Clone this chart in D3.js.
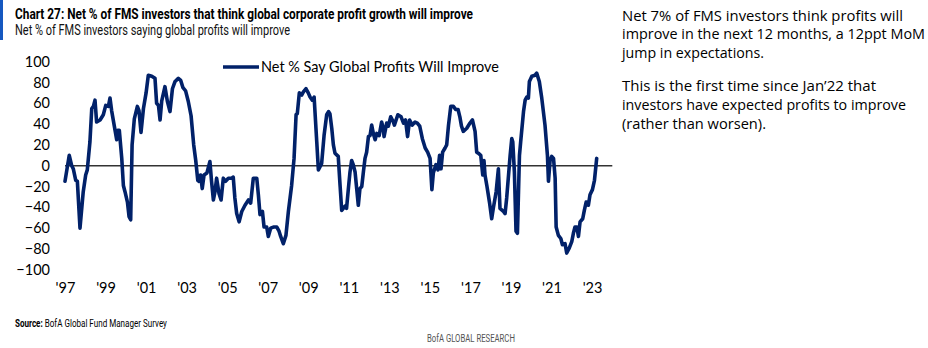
<!DOCTYPE html>
<html><head><meta charset="utf-8">
<script src="https://cdn.jsdelivr.net/npm/d3@7"></script>
<style>
html,body{margin:0;padding:0;background:#fff;}
svg{display:block;}
</style></head>
<body>
<svg id="chart" width="928" height="348"></svg>
<script>
// ---- data (fractional year positions) ----
const dates = [
1997.00,1997.21,1997.33,1997.41,1997.53,1997.61,1997.74,1997.90,1998.02,1998.10,
1998.23,1998.32,1998.40,1998.48,1998.56,1998.73,1998.89,1999.01,1999.14,1999.22,
1999.30,1999.47,1999.55,1999.60,1999.68,1999.80,1999.88,1999.96,2000.08,2000.16,
2000.24,2000.31,2000.42,2000.57,2000.65,2000.75,2000.87,2001.00,2001.11,2001.28,
2001.44,2001.52,2001.61,2001.69,2001.77,2001.93,2002.05,2002.18,2002.30,2002.43,
2002.59,2002.71,2002.82,2002.95,2003.08,2003.22,2003.35,2003.45,2003.55,2003.61,
2003.69,2003.77,2003.86,2004.00,2004.15,2004.23,2004.32,2004.40,2004.48,2004.60,
2004.70,2004.81,2004.92,2005.06,2005.22,2005.30,2005.38,2005.47,2005.59,2005.72,
2005.88,2006.05,2006.16,2006.29,2006.46,2006.54,2006.62,2006.74,2006.82,2006.95,
2007.03,2007.15,2007.28,2007.45,2007.56,2007.64,2007.77,2007.90,2008.02,2008.18,
2008.30,2008.40,2008.46,2008.56,2008.68,2008.76,2008.89,2009.00,2009.09,2009.20,
2009.29,2009.42,2009.50,2009.66,2009.78,2009.91,2010.00,2010.07,2010.16,2010.24,
2010.32,2010.48,2010.57,2010.65,2010.73,2010.81,2010.89,2010.98,2011.06,2011.14,
2011.22,2011.31,2011.39,2011.47,2011.55,2011.64,2011.72,2011.80,2011.88,2011.97,
2012.05,2012.13,2012.21,2012.30,2012.38,2012.50,2012.62,2012.70,2012.74,2012.87,
2012.95,2013.07,2013.20,2013.25,2013.42,2013.58,2013.70,2013.80,2013.90,2014.00,
2014.13,2014.27,2014.38,2014.50,2014.63,2014.77,2014.89,2015.01,2015.10,2015.17,
2015.30,2015.40,2015.48,2015.55,2015.63,2015.75,2015.83,2015.92,2016.03,2016.16,
2016.28,2016.39,2016.48,2016.56,2016.65,2016.82,2016.98,2017.10,2017.23,2017.31,
2017.39,2017.51,2017.61,2017.67,2017.72,2017.81,2017.94,2018.05,2018.13,2018.27,
2018.38,2018.46,2018.63,2018.71,2018.79,2018.96,2019.04,2019.09,2019.17,2019.25,
2019.32,2019.42,2019.48,2019.62,2019.70,2019.78,2019.86,2019.91,2020.03,2020.19,
2020.27,2020.40,2020.52,2020.68,2020.80,2020.85,2020.93,2021.01,2021.10,2021.18,
2021.23,2021.34,2021.46,2021.54,2021.67,2021.75,2021.88,2022.00,2022.08,2022.16,
2022.25,2022.33,2022.41,2022.54,2022.62,2022.71,2022.82,2022.90,2023.02,2023.12,
2023.23
];
const values = [
-15,10,0,-3,-14,-15,-60,-25,-9,-4,
23,55,57,63,42,44,49,58,57,65,
53,34,25,34,34,7,-19,-25,-35,-49,
-52,20,45,57,53,32,55,70,87,86,
84,60,58,44,62,76,62,52,74,81,
84,82,75,72,62,48,20,5,-14,-15,
-9,-22,-9,-7,4,-15,-33,-25,-12,-27,
-33,-12,-15,-12,-12,-11,-31,-46,-54,-44,
-38,-33,-36,-12,-12,-28,-47,-44,-59,-59,
-68,-60,-59,-59,-63,-68,-75,-67,-44,-19,
7,49,50,70,68,71,74,70,66,63,
66,23,-4,2,29,49,52,50,36,20,
12,9,-19,-43,-41,-39,-41,-22,-6,5,
1,-6,-22,-38,-22,-20,-6,7,13,28,
29,39,31,25,31,29,42,36,28,41,
38,47,42,39,49,47,41,44,28,44,
39,42,41,38,26,17,13,7,-23,-7,
1,-4,10,-3,13,17,20,39,57,57,
54,54,47,38,33,36,41,44,33,13,
12,10,-9,5,-9,-19,-35,-51,-41,-25,
-3,-41,-44,-46,-31,10,26,23,-6,-63,
-65,10,23,52,63,66,65,81,86,87,
89,81,65,39,10,-15,5,9,7,-12,
-59,-67,-70,-76,-75,-84,-79,-73,-65,-59,
-59,-68,-54,-51,-43,-35,-38,-28,-23,-14,
7
];
const yTicks = [100,80,60,40,20,0,-20,-40,-60,-80,-100];
const xTickYears = [1997,1999,2001,2003,2005,2007,2009,2011,2013,2015,2017,2019,2021,2023];
const xTickLabels = ["'97","'99","'01","'03","'05","'07","'09","'11","'13","'15","'17","'19","'21","'23"];
const seriesName = "Net % Say Global Profits Will Improve";
const title = "Chart 27: Net % of FMS investors that think global corporate profit growth will improve";
const subtitle = "Net % of FMS investors saying global profits will improve";
const sideText = [
  ["Net 7% of FMS investors think profits will","improve in the next 12 months, a 12ppt MoM","jump in expectations."],
  ["This is the first time since Jan\u201922 that","investors have expected profits to improve","(rather than worsen)."]
];

// ---- drawing ----
const svg = d3.select("#chart");
const x = d3.scaleLinear().domain([1997, 2024]).range([65, 612.3]);
const y = d3.scaleLinear().domain([-100, 100]).range([269.7, 61.7]);

// helper: horizontally squeeze a text to a target width (keeps the real glyph box)
function fitWidth(sel, x0, y0, w) {
  const len = sel.node().getComputedTextLength();
  const k = len > 0 ? w / len : 1;
  sel.attr("transform", `translate(${x0},${y0}) scale(${k},1)`);
}

// header
svg.append("rect").attr("x",0).attr("y",0).attr("width",3).attr("height",40).attr("fill","#1558c0");
svg.append("text").attr("x",15).attr("y",18.5).attr("font-family","Roboto, 'Liberation Sans', sans-serif")
  .attr("font-weight","bold").attr("font-size",15.5).attr("fill","#000")
  .attr("textLength",458).attr("lengthAdjust","spacingAndGlyphs").text(title);
svg.append("text").attr("x",15).attr("y",35).attr("font-family","Roboto, 'Liberation Sans', sans-serif")
  .attr("font-size",14).attr("fill","#111")
  .attr("textLength",275).attr("lengthAdjust","spacingAndGlyphs").text(subtitle);

// y axis labels (no axis line)
const yAxis = d3.axisLeft(y).tickValues(yTicks).tickSize(0).tickPadding(0);
const gy = svg.append("g").attr("transform","translate(50,0)").call(yAxis);
gy.select(".domain").remove();
gy.selectAll("text").attr("font-family","Lato, Carlito, Calibri, sans-serif").attr("font-size",14.5).attr("fill","#000");

// x axis labels
const xAxis = d3.axisBottom(x).tickValues(xTickYears).tickFormat((d,i)=>xTickLabels[i]).tickSize(0).tickPadding(0);
const gx = svg.append("g").attr("transform","translate(0,283)").call(xAxis);
gx.select(".domain").remove();
gx.selectAll("text").attr("font-family","Lato, Carlito, Calibri, sans-serif").attr("font-size",14.5).attr("fill","#000");

// zero line
svg.append("line").attr("x1",x(1997)).attr("x2",x(2024)).attr("y1",y(0)).attr("y2",y(0))
  .attr("stroke","#333").attr("stroke-width",1.4);

// series line
const pts = dates.map((d,i)=>[d, values[i]]);
svg.append("path").datum(pts)
  .attr("d", d3.line().x(d=>x(d[0])).y(d=>y(d[1])))
  .attr("fill","none").attr("stroke","#012169").attr("stroke-width",3.6)
  .attr("stroke-linejoin","round").attr("stroke-linecap","round");

// legend
svg.append("line").attr("x1",223).attr("x2",259).attr("y1",67).attr("y2",67)
  .attr("stroke","#012169").attr("stroke-width",3.6);
svg.append("text").attr("x",261).attr("y",72).attr("font-family","Lato, Carlito, Calibri, sans-serif")
  .attr("font-size",15).attr("fill","#000").attr("textLength",238).attr("lengthAdjust","spacingAndGlyphs").text(seriesName);

// side commentary
const sideWidths = [[281,303,142],[254,284,144]];
const sideY = [[20.7,39.2,57.7],[90.7,109.7,128.7]];
sideText.forEach((para,pi)=>{
  para.forEach((line,li)=>{
    svg.append("text").attr("x",622).attr("y",sideY[pi][li])
      .attr("font-family","'Open Sans', 'Noto Sans', sans-serif").attr("font-size",14.2).attr("fill","#000")
      .attr("textLength",sideWidths[pi][li]).attr("lengthAdjust","spacingAndGlyphs").text(line);
  });
});

// source & footer
const src = svg.append("text").attr("font-family","Roboto, 'Liberation Sans', sans-serif")
  .attr("font-size",10.5).attr("fill","#000");
src.append("tspan").attr("font-weight","bold").text("Source:");
src.append("tspan").text(" BofA Global Fund Manager Survey");
fitWidth(src, 15, 327, 152);
const foot = svg.append("text").attr("font-family","Roboto, 'Liberation Sans', sans-serif")
  .attr("font-size",10.5).attr("fill","#555").text("BofA GLOBAL RESEARCH");
fitWidth(foot, 427, 342, 88);
</script>
</body></html>
